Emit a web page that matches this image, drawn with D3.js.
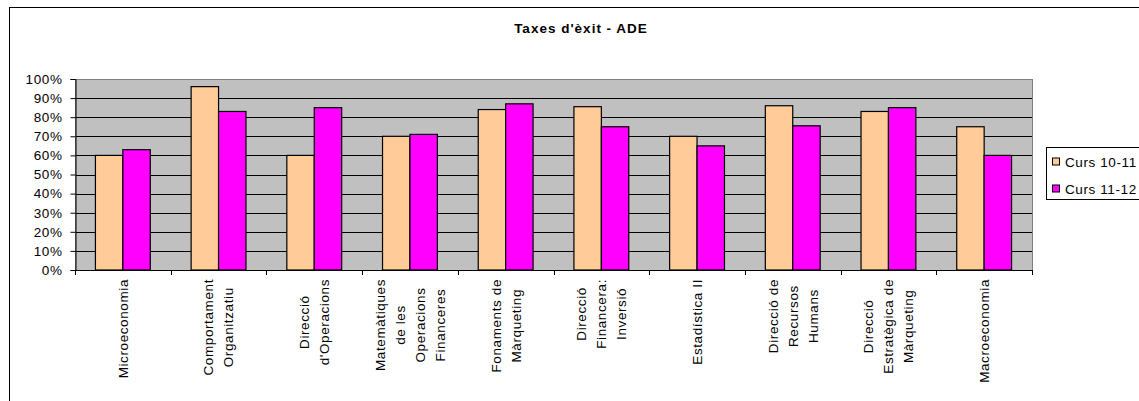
<!DOCTYPE html>
<meta charset="utf-8">
<style>
  body { margin: 0; background: #fff; }
  svg { font-family: Arial, "Liberation Sans", sans-serif; }
</style>
<svg width="1139" height="401"></svg>
<script src="https://d3js.org/d3.v7.min.js"></script>
<script>

// data
var categories = [
    ["Microeconomia"],
    ["Comportament", "Organitzatiu"],
    ["Direcció", "d'Operacions"],
    ["Matemàtiques", "de les", "Operacions", "Financeres"],
    ["Fonaments de", "Màrqueting"],
    ["Direcció", "Financera:", "Inversió"],
    ["Estadística II"],
    ["Direcció de", "Recursos", "Humans"],
    ["Direcció", "Estratègica de", "Màrqueting"],
    ["Macroeconomia"]
];
var curs1011 = [0.60, 0.96, 0.60, 0.70, 0.84, 0.855, 0.70, 0.86, 0.83, 0.75];
var curs1112 = [0.63, 0.83, 0.85, 0.71, 0.87, 0.75, 0.65, 0.755, 0.85, 0.60];
var seriesNames = ["Curs 10-11", "Curs 11-12"];
var seriesColors = ["#FFCC99", "#FF00FF"];
var yTicks = [0, 0.1, 0.2, 0.3, 0.4, 0.5, 0.6, 0.7, 0.8, 0.9, 1];

var svg = d3.select("svg");
var plotLeft = 75, plotRight = 1032, plotTop = 79, plotBottom = 270;
var fontSize = 13.5, spacing = 0.6;

// outer chart border (runs past the right and bottom edges)
svg.append("rect")
    .attr("x", 9.5).attr("y", 7.5)
    .attr("width", 1300).attr("height", 500)
    .attr("fill", "#fff").attr("stroke", "#000");

svg.append("text")
    .attr("x", 581).attr("y", 33)
    .attr("text-anchor", "middle")
    .attr("font-weight", "bold")
    .attr("font-size", 13.5)
    .attr("letter-spacing", 1)
    .text("Taxes d'èxit - ADE");

var x = d3.scaleBand()
    .domain(d3.range(categories.length))
    .range([plotLeft, plotRight]);

var xInner = d3.scaleBand()
    .domain([0, 1])
    .range([0, x.bandwidth()])
    .paddingOuter(0.745)
    .paddingInner(0);

var y = d3.scaleLinear().domain([0, 1]).range([plotBottom, plotTop]);

// plot area
svg.append("rect")
    .attr("x", plotLeft).attr("y", plotTop)
    .attr("width", plotRight - plotLeft).attr("height", plotBottom - plotTop)
    .attr("fill", "#C0C0C0");

svg.append("g")
    .selectAll("line")
    .data(yTicks.filter(function(d) { return d > 0 && d < 1; }))
    .enter().append("line")
    .attr("x1", plotLeft).attr("x2", plotRight)
    .attr("y1", function(d) { return Math.round(y(d)) + 0.5; })
    .attr("y2", function(d) { return Math.round(y(d)) + 0.5; })
    .attr("stroke", "#000");

svg.append("rect")
    .attr("x", plotLeft + 0.5).attr("y", plotTop + 0.5)
    .attr("width", plotRight - plotLeft).attr("height", plotBottom - plotTop)
    .attr("fill", "none").attr("stroke", "#808080");

// bars
var series = [curs1011, curs1112];
series.forEach(function(vals, s) {
    svg.append("g")
        .selectAll("rect")
        .data(vals)
        .enter().append("rect")
        .attr("x", function(d, i) { return x(i) + xInner(s); })
        .attr("y", function(d) { return y(d); })
        .attr("width", xInner.bandwidth())
        .attr("height", function(d) { return plotBottom - y(d); })
        .attr("fill", seriesColors[s])
        .attr("stroke", "#000")
        .attr("stroke-width", 1.2);
});

// y axis
var yAxis = svg.append("g")
    .attr("transform", "translate(" + (plotLeft + 0.5) + ",0)")
    .call(d3.axisLeft(y).tickValues(yTicks).tickSize(5).tickPadding(8)
        .tickFormat(d3.format(".0%")));
yAxis.select(".domain").attr("stroke", "#000");
yAxis.selectAll("text")
    .attr("font-size", fontSize)
    .attr("letter-spacing", spacing)
    .attr("fill", "#000");

// x axis: ticks on category boundaries
var xAxisG = svg.append("g");
xAxisG.append("line")
    .attr("x1", plotLeft).attr("x2", plotRight)
    .attr("y1", plotBottom + 0.5).attr("y2", plotBottom + 0.5)
    .attr("stroke", "#000");
xAxisG.selectAll(".tick")
    .data(d3.range(categories.length + 1))
    .enter().append("line")
    .attr("x1", function(i) { return Math.round(plotLeft + i * x.step()) + 0.5; })
    .attr("x2", function(i) { return Math.round(plotLeft + i * x.step()) + 0.5; })
    .attr("y1", plotBottom).attr("y2", plotBottom + 5)
    .attr("stroke", "#000");

// rotated multi-line category labels
var lineGap = 20;
categories.forEach(function(lines, i) {
    var cx = x(i) + x.bandwidth() / 2;
    var g = svg.append("g");
    var texts = lines.map(function(line, j) {
        var lx = cx + (j - (lines.length - 1) / 2) * lineGap + fontSize * 0.36;
        return g.append("text")
            .attr("font-size", fontSize)
            .attr("letter-spacing", spacing)
            .attr("text-anchor", "middle")
            .attr("data-x", lx)
            .text(line);
    });
    var maxLen = d3.max(texts, function(t) { return t.node().getComputedTextLength(); });
    var cy = 279 + maxLen / 2;
    texts.forEach(function(t) {
        var lx = +t.attr("data-x");
        t.attr("transform", "translate(" + lx + "," + cy + ") rotate(-90)");
    });
});

// legend
var legend = svg.append("g");
legend.append("rect")
    .attr("x", 1046.5).attr("y", 147.5)
    .attr("width", 120).attr("height", 52)
    .attr("fill", "#fff").attr("stroke", "#000");
seriesNames.forEach(function(name, s) {
    var cy = 161.5 + s * 27;
    legend.append("rect")
        .attr("x", 1052.5).attr("y", cy - 3.5)
        .attr("width", 7).attr("height", 7)
        .attr("fill", seriesColors[s]).attr("stroke", "#000");
    legend.append("text")
        .attr("x", 1065).attr("y", cy + 5)
        .attr("font-size", fontSize)
        .attr("letter-spacing", spacing)
        .text(name);
});

</script>
